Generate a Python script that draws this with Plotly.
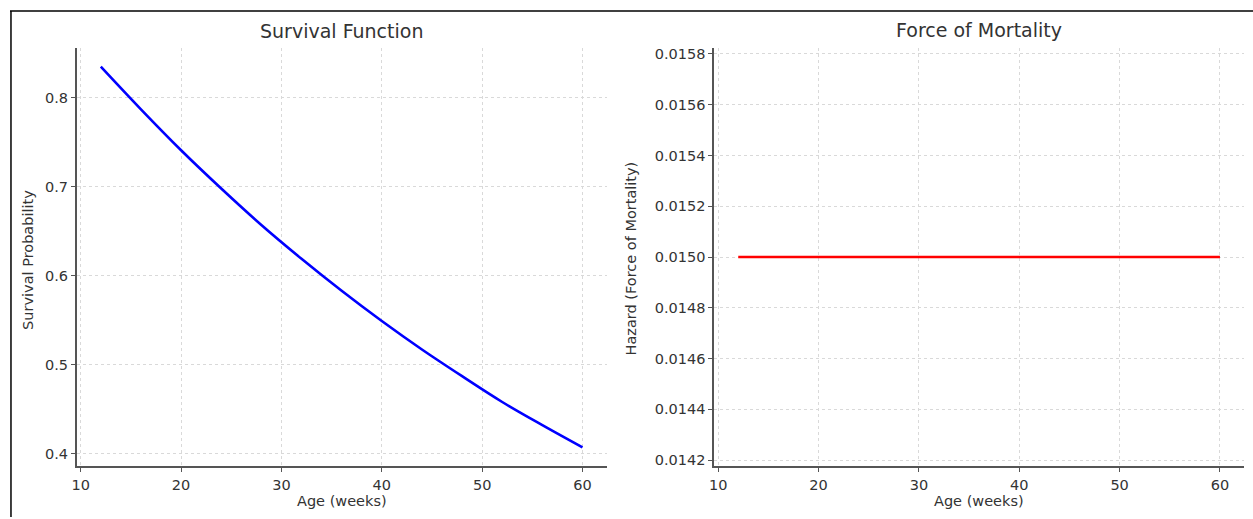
import plotly.graph_objects as go

# Data
age_weeks = [12, 16, 20, 24, 28, 32, 36, 40, 44, 48, 52, 56, 60]
survival_prob = [0.835, 0.787, 0.741, 0.698, 0.657, 0.619, 0.583, 0.549, 0.517, 0.487, 0.458, 0.432, 0.407]
hazard_age = [12, 60]
hazard_value = [0.015, 0.015]

W, H = 1253, 519
FONT = "DejaVu Sans"
TXT = "#333333"
AX = "#555555"
GRID = "#d9d9d9"

def px_x(p):
    return p / W

def px_y(p):
    return 1 - p / H

fig = go.Figure()
fig.add_trace(go.Scatter(x=age_weeks, y=survival_prob, mode="lines", line=dict(color="#0000ff", width=2.6, shape="spline"),
                         xaxis="x", yaxis="y", showlegend=False))
fig.add_trace(go.Scatter(x=hazard_age, y=hazard_value, mode="lines", line=dict(color="#ff0000", width=2.6),
                         xaxis="x2", yaxis="y2", showlegend=False))

common_x = dict(range=[9.6, 62.4], tickvals=[10, 20, 30, 40, 50, 60], showline=True, linecolor=AX, linewidth=1.6,
                ticks="outside", ticklen=4, tickwidth=1.2, tickcolor=AX, showgrid=True, gridcolor=GRID,
                griddash="dot", gridwidth=1, zeroline=False, tickfont=dict(family=FONT, size=14.5, color=TXT))
common_y = dict(showline=True, linecolor=AX, linewidth=1.6, ticks="outside", ticklen=4, tickwidth=1.2,
                tickcolor=AX, showgrid=True, gridcolor=GRID, griddash="dot", gridwidth=1, zeroline=False,
                tickfont=dict(family=FONT, size=14.5, color=TXT))

yd = [px_y(468), px_y(46)]
fig.update_layout(
    width=W, height=H, margin=dict(l=0, r=0, t=0, b=0),
    paper_bgcolor="white", plot_bgcolor="white",
    xaxis=dict(domain=[px_x(72), px_x(604)], anchor="y", **common_x),
    yaxis=dict(domain=yd, anchor="x", range=[0.3856, 0.8564], tickvals=[0.4, 0.5, 0.6, 0.7, 0.8],
               tickformat=".1f", **common_y),
    xaxis2=dict(domain=[px_x(712), px_x(1244)], anchor="y2", **common_x),
    yaxis2=dict(domain=yd, anchor="x2", range=[0.014175, 0.015825], dtick=0.0002, tick0=0.0142,
                tickformat=".4f", **common_y),
    annotations=[
        dict(text="Survival Function", x=px_x(338), y=px_y(29), xref="paper", yref="paper", showarrow=False,
             font=dict(family=FONT, size=19, color=TXT), xanchor="center", yanchor="middle"),
        dict(text="Force of Mortality", x=px_x(978), y=px_y(28), xref="paper", yref="paper", showarrow=False,
             font=dict(family=FONT, size=19, color=TXT), xanchor="center", yanchor="middle"),
        dict(text="Age (weeks)", x=px_x(338), y=px_y(503), xref="paper", yref="paper", showarrow=False,
             font=dict(family=FONT, size=14.5, color=TXT), xanchor="center", yanchor="middle"),
        dict(text="Age (weeks)", x=px_x(978), y=px_y(503), xref="paper", yref="paper", showarrow=False,
             font=dict(family=FONT, size=14.5, color=TXT), xanchor="center", yanchor="middle"),
        dict(text="Survival Probability", x=px_x(23), y=px_y(260), xref="paper", yref="paper", showarrow=False,
             textangle=-90, font=dict(family=FONT, size=14.5, color=TXT), xanchor="center", yanchor="middle"),
        dict(text="Hazard (Force of Mortality)", x=px_x(629), y=px_y(258), xref="paper", yref="paper",
             showarrow=False, textangle=-90, font=dict(family=FONT, size=14.5, color=TXT),
             xanchor="center", yanchor="middle"),
    ],
    shapes=[
        dict(type="line", xref="paper", yref="paper", x0=px_x(5), x1=px_x(1253), y0=px_y(9), y1=px_y(9),
             line=dict(color="black", width=1.5)),
        dict(type="line", xref="paper", yref="paper", x0=px_x(6), x1=px_x(6), y0=px_y(9), y1=0,
             line=dict(color="black", width=1.5)),
    ],
)

fig.write_html("out.html", config={"displayModeBar": False},
               post_script="document.body.style.margin='0';document.body.style.overflow='hidden';")
